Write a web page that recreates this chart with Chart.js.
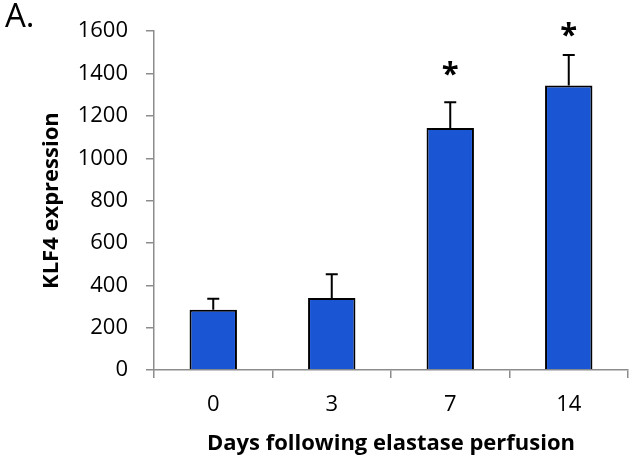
<!DOCTYPE html>
<html>
<head>
<meta charset="utf-8">
<script src="https://cdn.jsdelivr.net/npm/chart.js@4/dist/chart.umd.min.js"></script>
<style>
  html, body { margin: 0; padding: 0; background: #fff; }
  #wrap { position: relative; width: 634px; height: 462px; }
  #panel { position: absolute; left: 5px; top: -2px; font: 33px/34px "Open Sans", sans-serif; color: #000; }
</style>
</head>
<body>
<div id="wrap">
  <canvas id="chart" width="634" height="462"></canvas>
  <div id="panel">A.</div>
</div>
<script>
// Values
const days = ['0', '3', '7', '14'];
const klf4 = [285, 340, 1143, 1343];
const errUp = [52, 112, 121, 145];
// significance stars, placed at these values (null = none)
const starAt = [null, null, 1406, 1593];

// Upper error bars and significance stars
const errorBars = {
    id: 'errorBars',
    afterDatasetsDraw(chart) {
        const ctx = chart.ctx;
        const y = chart.scales.y;
        const meta = chart.getDatasetMeta(0);
        ctx.save();
        ctx.strokeStyle = '#000';
        ctx.lineWidth = 2;
        meta.data.forEach((bar, i) => {
            const top = y.getPixelForValue(klf4[i]);
            const end = y.getPixelForValue(klf4[i] + errUp[i]);
            ctx.beginPath();
            ctx.moveTo(bar.x, top);
            ctx.lineTo(bar.x, end);
            ctx.moveTo(bar.x - 6, end);
            ctx.lineTo(bar.x + 6, end);
            ctx.stroke();
            if (starAt[i] !== null) {
                ctx.fillStyle = '#000';
                ctx.font = 'bold 31px "Open Sans", sans-serif';
                ctx.textAlign = 'center';
                ctx.textBaseline = 'middle';
                ctx.fillText('*', bar.x, y.getPixelForValue(starAt[i]) + 3);
            }
        });
        ctx.restore();
    }
};

new Chart(document.getElementById('chart'), {
    type: 'bar',
    data: {
        labels: days,
        datasets: [{
            data: klf4,
            backgroundColor: '#1a56d4',
            borderColor: '#000',
            borderWidth: 2,
            categoryPercentage: 1,
            barPercentage: 0.4
        }]
    },
    options: {
        responsive: false,
        animation: false,
        layout: { padding: { left: 0, right: 6, top: 27, bottom: 0 } },
        plugins: {
            legend: { display: false },
            tooltip: { enabled: false }
        },
        scales: {
            x: {
                afterFit(scale) { scale.height = 92; },
                grid: { drawOnChartArea: false, drawTicks: true, tickLength: 8, color: '#8c8c8c', lineWidth: 1.5, offset: true },
                border: { color: '#8c8c8c', width: 1.5 },
                ticks: { color: '#000', font: { family: 'Open Sans', size: 22 }, padding: 14 },
                title: {
                    display: true,
                    text: 'Days following elastase perfusion',
                    color: '#000',
                    font: { family: 'Open Sans', size: 22, weight: 'bold' },
                    padding: { top: 0, bottom: 5 }
                }
            },
            y: {
                min: 0,
                max: 1600,
                afterFit(scale) { scale.width = 154; },
                ticks: {
                    stepSize: 200,
                    color: '#000',
                    font: { family: 'Open Sans', size: 22 },
                    padding: 18,
                    callback: v => String(v)
                },
                grid: { drawOnChartArea: false, drawTicks: true, tickLength: 8, color: '#8c8c8c', lineWidth: 1.5 },
                border: { color: '#8c8c8c', width: 1.5 },
                title: {
                    display: true,
                    text: 'KLF4 expression',
                    color: '#000',
                    font: { family: 'Open Sans', size: 22, weight: 'bold' },
                    padding: { top: 39, bottom: 0 }
                }
            }
        }
    },
    plugins: [errorBars]
});
</script>
</body>
</html>
